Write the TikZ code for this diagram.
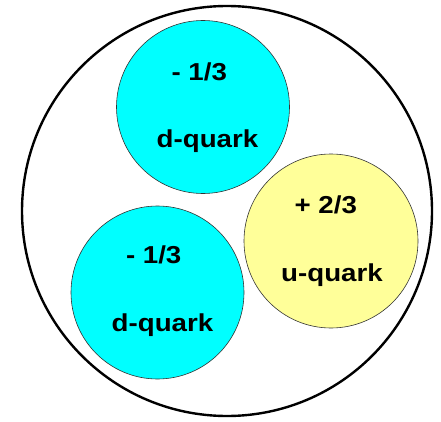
\documentclass[tikz,border=0pt]{standalone}
\usepackage{fontspec}
\setmainfont{Liberation Sans}[FakeStretch=1.13]
\usepackage{xcolor}
\usepackage{tikz}
\definecolor{dcyan}{RGB}{0,255,255}
\definecolor{uyellow}{RGB}{255,255,153}
\tikzset{
  protonring/.style={draw, line width=2.4pt, circle, minimum size=410pt, inner sep=0pt},
  quarkball/.style={draw=black!80, line width=0.6pt, circle, inner sep=0pt},
  dball/.style={quarkball, fill=dcyan, minimum size=173pt},
  uball/.style={quarkball, fill=uyellow, minimum size=174pt},
  qtext/.style={anchor=base, inner sep=0pt, font=\bfseries\fontsize{24.5}{30}\selectfont}
}
\begin{document}
\begin{tikzpicture}[x=1pt, y=1pt]
\useasboundingbox (0,0) rectangle (441,421);
% proton
\node[protonring] (proton) at (227,210) {};
% quarks
\node[dball] (dtop) at (203,314) {};
\node[dball] (dlow) at (157.5,128.5) {};
\node[uball] (uq) at (331,180) {};
% charges and names
\node[qtext] (dtopq) at (199.3,340.3) {- 1/3};
\node[qtext] (dtopn) at (207.5,273.4) {d-quark};
\node[qtext] (dlowq) at (153.7,158) {- 1/3};
\node[qtext] (dlown) at (162.5,89.3) {d-quark};
\node[qtext] (uqq) at (325.8,208) {+ 2/3};
\node[qtext] (uqn) at (332,139.3) {u-quark};
\end{tikzpicture}
\end{document}
